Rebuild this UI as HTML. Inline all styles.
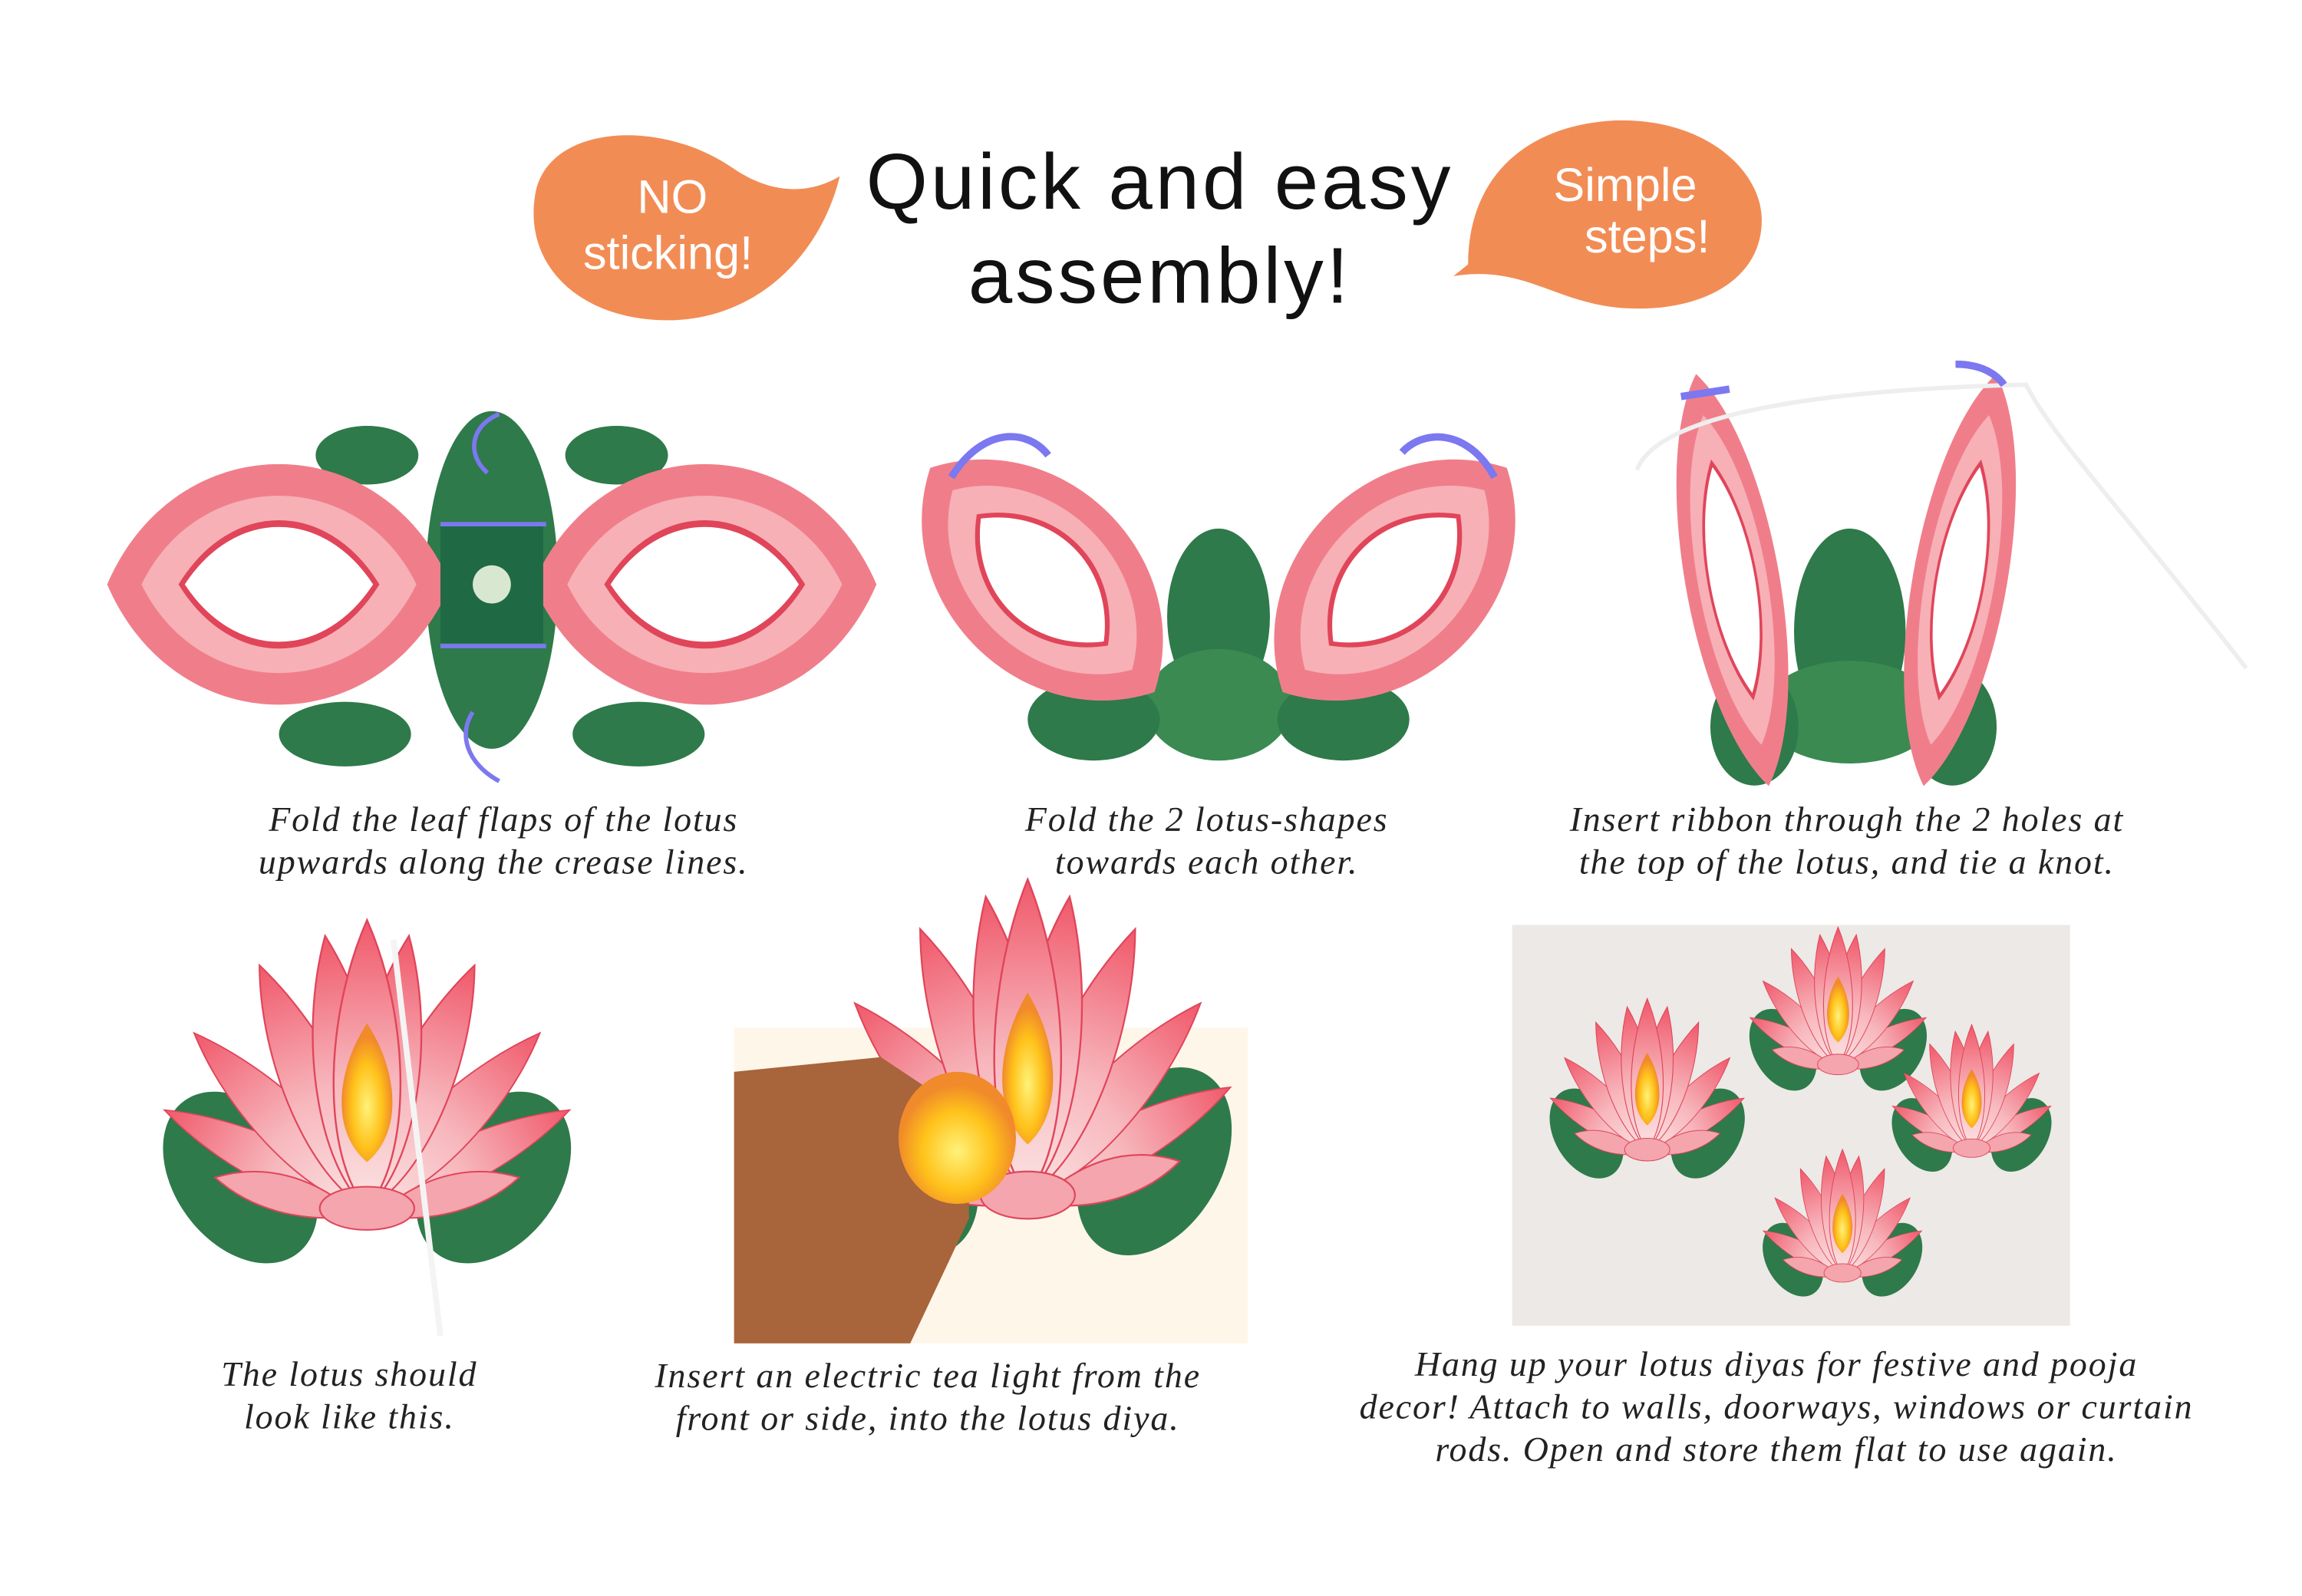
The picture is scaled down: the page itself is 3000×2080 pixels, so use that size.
<!DOCTYPE html>
<html><head><meta charset="utf-8"><style>
html,body{margin:0;padding:0;background:#fff;width:3000px;height:2080px;overflow:hidden}
svg{display:block}
.cap{font-family:"Liberation Serif",serif;font-style:italic;font-size:24px;fill:#222;text-anchor:middle;letter-spacing:1px}
.ttl{font-family:"Liberation Sans",sans-serif;font-size:54px;fill:#111;text-anchor:middle;letter-spacing:2px}
.bub{font-family:"Liberation Sans",sans-serif;font-size:32px;fill:#fff;text-anchor:middle}
</style></head><body>
<svg width="3000" height="2080" viewBox="0 0 1568 1087" xmlns="http://www.w3.org/2000/svg">
<defs>
<linearGradient id="pg" x1="0" y1="1" x2="0" y2="0"><stop offset="0" stop-color="#fbe3e3"/><stop offset="0.45" stop-color="#f7b7bd"/><stop offset="1" stop-color="#f0586a"/></linearGradient>
<radialGradient id="fl" cx="0.5" cy="0.6" r="0.5"><stop offset="0" stop-color="#fff27a"/><stop offset="0.6" stop-color="#ffc21a"/><stop offset="1" stop-color="#f08a2a"/></radialGradient>
<path id="pet" d="M0 0 C24 -30 24 -110 0 -170 C-24 -110 -24 -30 0 0Z" fill="url(#pg)" stroke="#e0455a" stroke-width="1"/>
<g id="lotus">
<ellipse cx="-75" cy="40" rx="40" ry="60" transform="rotate(-30 -75 40)" fill="#2e7a4a"/>
<ellipse cx="75" cy="40" rx="40" ry="60" transform="rotate(30 75 40)" fill="#2e7a4a"/>
<g transform="translate(0 60)">
<use href="#pet" transform="rotate(-62) scale(0.8)"/>
<use href="#pet" transform="rotate(62) scale(0.8)"/>
<use href="#pet" transform="rotate(-42) scale(0.9)"/>
<use href="#pet" transform="rotate(42) scale(0.9)"/>
<use href="#pet" transform="rotate(-22)"/>
<use href="#pet" transform="rotate(22)"/>
<use href="#pet" transform="rotate(-8) scale(1.05)"/>
<use href="#pet" transform="rotate(8) scale(1.05)"/>
<use href="#pet" transform="scale(1.1)"/>
</g>
<path d="M0 -60 C18 -30 22 10 0 30 C-22 10 -18 -30 0 -60Z" fill="url(#fl)"/>
<g fill="#f4a5ad" stroke="#e0455a" stroke-width="1">
<path d="M-90 40 C-60 30 -30 40 -5 65 C-40 70 -70 60 -90 40Z"/>
<path d="M90 40 C60 30 30 40 5 65 C40 70 70 60 90 40Z"/>
<ellipse cx="0" cy="60" rx="28" ry="14"/>
</g>
</g>
<g id="mask">
<path d="M-150 0 C-90 -95 90 -95 150 0 C90 95 -90 95 -150 0Z" fill="#f07e8a"/>
<path d="M-120 0 C-70 -70 70 -70 120 0 C70 70 -70 70 -120 0Z" fill="#f7b0b6"/>
<path d="M-85 0 C-40 -48 40 -48 85 0 C40 48 -40 48 -85 0Z" fill="#fff" stroke="#e0455a" stroke-width="4"/>
</g>
</defs>
<!-- title -->
<path d="M365 130 C375 85 450 80 500 115 C530 135 555 130 572 120 C560 170 520 215 460 218 C395 220 355 180 365 130Z" fill="#f28c55"/>
<text class="bub" x="458" y="145">NO</text><text class="bub" x="455" y="183" font-size="28">sticking!</text>
<path d="M1000 180 C1000 120 1040 85 1100 82 C1160 80 1200 115 1200 150 C1200 190 1160 212 1110 210 C1060 208 1040 180 990 188Z" fill="#f28c55"/>
<text class="bub" x="1107" y="137">Simple</text><text class="bub" x="1122" y="172">steps!</text>
<text class="ttl" x="790" y="142">Quick and easy</text>
<text class="ttl" x="790" y="206">assembly!</text>
<!-- step 1 flat -->
<g>
<ellipse cx="335" cy="395" rx="45" ry="115" fill="#2e7a4a"/>
<ellipse cx="250" cy="310" rx="35" ry="20" fill="#2e7a4a"/><ellipse cx="420" cy="310" rx="35" ry="20" fill="#2e7a4a"/>
<ellipse cx="235" cy="500" rx="45" ry="22" fill="#2e7a4a"/><ellipse cx="435" cy="500" rx="45" ry="22" fill="#2e7a4a"/>
<use href="#mask" transform="translate(190 398) scale(0.78 1.15)"/>
<use href="#mask" transform="translate(480 398) scale(0.78 1.15)"/>
<rect x="300" y="358" width="70" height="80" fill="#1f6a44"/>
<circle cx="335" cy="398" r="13" fill="#d8e8d0"/>
<line x1="300" y1="357" x2="372" y2="357" stroke="#7b78f0" stroke-width="3"/>
<line x1="300" y1="440" x2="372" y2="440" stroke="#7b78f0" stroke-width="3"/>
<path d="M340 282 C320 290 318 310 332 322" stroke="#7b78f0" stroke-width="3" fill="none"/>
<path d="M340 532 C318 520 312 500 322 485" stroke="#7b78f0" stroke-width="3" fill="none"/>
</g>
<text class="cap" x="343" y="566">Fold the leaf flaps of the lotus</text>
<text class="cap" x="343" y="595">upwards along the crease lines.</text>
<!-- step 2 -->
<g>
<ellipse cx="830" cy="420" rx="35" ry="60" fill="#2e7a4a"/>
<ellipse cx="830" cy="480" rx="50" ry="38" fill="#3b8a52"/>
<ellipse cx="745" cy="490" rx="45" ry="28" fill="#2e7a4a"/><ellipse cx="915" cy="490" rx="45" ry="28" fill="#2e7a4a"/>
<use href="#mask" transform="translate(710 395) rotate(45) scale(0.72 0.9)"/>
<use href="#mask" transform="translate(950 395) rotate(-45) scale(0.72 0.9)"/>
<path d="M648 325 C670 290 700 292 714 310" stroke="#7b78f0" stroke-width="5" fill="none"/>
<path d="M1018 325 C1000 292 970 292 955 308" stroke="#7b78f0" stroke-width="5" fill="none"/>
</g>
<text class="cap" x="822" y="566">Fold the 2 lotus-shapes</text>
<text class="cap" x="822" y="595">towards each other.</text>
<!-- step 3 -->
<g>
<ellipse cx="1260" cy="430" rx="38" ry="70" fill="#2e7a4a"/>
<ellipse cx="1260" cy="485" rx="60" ry="35" fill="#3b8a52"/>
<ellipse cx="1195" cy="495" rx="30" ry="40" fill="#2e7a4a"/><ellipse cx="1330" cy="495" rx="30" ry="40" fill="#2e7a4a"/>
<use href="#mask" transform="translate(1180 395) rotate(80) scale(0.95 0.45)"/>
<use href="#mask" transform="translate(1335 395) rotate(-80) scale(0.95 0.45)"/>
<path d="M1115 320 C1130 280 1250 265 1380 262 C1400 300 1440 340 1530 455" stroke="#eee" stroke-width="3" fill="none"/>
<path d="M1145 270 L1178 265" stroke="#7b78f0" stroke-width="5"/>
<path d="M1332 248 C1350 248 1360 255 1365 262" stroke="#7b78f0" stroke-width="5" fill="none"/>
</g>
<text class="cap" x="1258" y="566">Insert ribbon through the 2 holes at</text>
<text class="cap" x="1258" y="595">the top of the lotus, and tie a knot.</text>
<!-- bottom -->
<use href="#lotus" transform="translate(250 760) scale(1.15 1.05)"/>
<line x1="268" y1="640" x2="300" y2="910" stroke="#f4f4f4" stroke-width="4"/>
<text class="cap" x="238" y="944">The lotus should</text>
<text class="cap" x="238" y="973">look like this.</text>
<rect x="500" y="700" width="350" height="215" fill="#fff6ea"/>
<use href="#lotus" transform="translate(700 745) scale(1.15)"/>
<path d="M500 730 L600 720 L660 760 L660 830 L620 915 L500 915Z" fill="#a8643a"/>
<ellipse cx="652" cy="775" rx="40" ry="45" fill="url(#fl)"/>
<text class="cap" x="632" y="945">Insert an electric tea light from the</text>
<text class="cap" x="632" y="974">front or side, into the lotus diya.</text>
<rect x="1030" y="630" width="380" height="273" fill="#ece9e6"/>
<use href="#lotus" transform="translate(1122 750) scale(0.55)"/>
<use href="#lotus" transform="translate(1252 695) scale(0.5)"/>
<use href="#lotus" transform="translate(1343 755) scale(0.45)"/>
<use href="#lotus" transform="translate(1255 840) scale(0.45)"/>
<text class="cap" x="1210" y="937">Hang up your lotus diyas for festive and pooja</text>
<text class="cap" x="1210" y="966">decor! Attach to walls, doorways, windows or curtain</text>
<text class="cap" x="1210" y="995">rods. Open and store them flat to use again.</text>
</svg>
</body></html>
